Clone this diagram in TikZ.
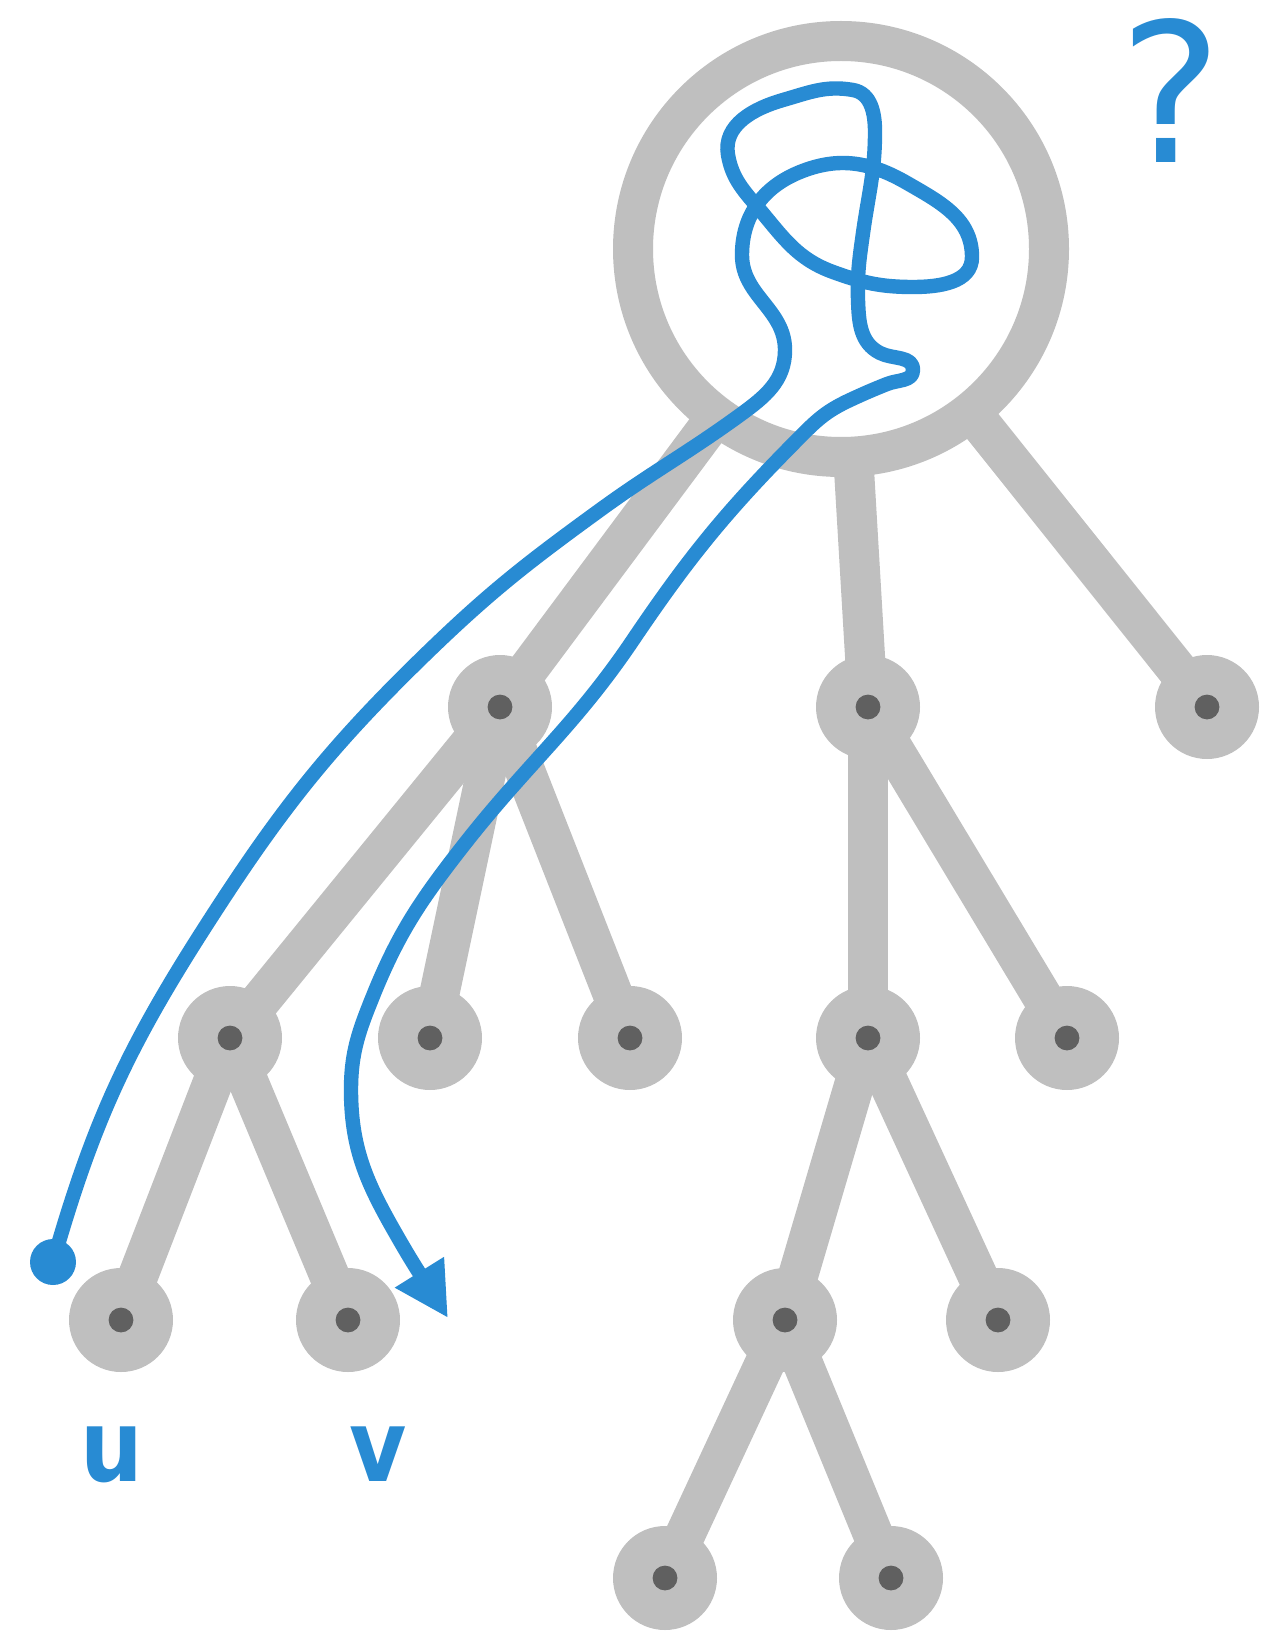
\documentclass[tikz,border=0pt]{standalone}
\usepackage{fontspec}
\setmainfont{DejaVu Sans}
\newfontfamily\labelfont[FakeStretch=0.88]{DejaVu Sans}
\usetikzlibrary{arrows.meta,backgrounds}
\definecolor{edgegrey}{HTML}{BFBFBF}
\definecolor{dotgrey}{HTML}{606060}
\definecolor{pathblue}{HTML}{288BD3}
\begin{document}
\begin{tikzpicture}[x=0.5pt,y=-0.5pt,
  treenode/.style={circle, fill=edgegrey, inner sep=0pt, outer sep=0pt, minimum size=52pt,
    path picture={\fill[dotgrey] (path picture bounding box.center) circle[radius=6.2pt];}},
  rootnode/.style={circle, draw=edgegrey, fill=white, line width=20pt, inner sep=0pt, outer sep=0pt, minimum size=208pt},
  treeedge/.style={draw=edgegrey, line width=20pt},
  walk/.style={draw=pathblue, line width=7.2pt, line join=round},
  startdot/.style={circle, fill=pathblue, inner sep=0pt, minimum size=23pt},
  vlabel/.style={text=pathblue, font=\labelfont\bfseries\fontsize{50pt}{60pt}\selectfont, anchor=base, inner sep=0pt},
  qlabel/.style={text=pathblue, font=\fontsize{97pt}{110pt}\selectfont, anchor=base, inner sep=0pt}]
\useasboundingbox (0,0) rectangle (1281,1642);
% nodes
\node[treenode] (A) at (500,707) {};
\node[treenode] (B) at (868,707) {};
\node[treenode] (C) at (1207,707) {};
\node[treenode] (D) at (230,1038) {};
\node[treenode] (E) at (430,1038) {};
\node[treenode] (F) at (630,1038) {};
\node[treenode] (G) at (868,1038) {};
\node[treenode] (H) at (1067,1038) {};
\node[treenode] (U) at (121,1320) {};
\node[treenode] (V) at (348,1320) {};
\node[treenode] (I) at (785,1320) {};
\node[treenode] (J) at (998,1320) {};
\node[treenode] (K) at (665,1578) {};
\node[treenode] (L) at (891,1578) {};
\node[rootnode] (R) at (841,249) {};
% edges
\begin{pgfonlayer}{background}
\draw[treeedge] (R.center) -- (A.center);
\draw[treeedge] (R.center) -- (B.center);
\draw[treeedge] (R.center) -- (C.center);
\draw[treeedge] (A.center) -- (D.center);
\draw[treeedge] (A.center) -- (E.center);
\draw[treeedge] (A.center) -- (F.center);
\draw[treeedge] (B.center) -- (G.center);
\draw[treeedge] (B.center) -- (H.center);
\draw[treeedge] (D.center) -- (U.center);
\draw[treeedge] (D.center) -- (V.center);
\draw[treeedge] (G.center) -- (I.center);
\draw[treeedge] (G.center) -- (J.center);
\draw[treeedge] (I.center) -- (K.center);
\draw[treeedge] (I.center) -- (L.center);
\end{pgfonlayer}
% walk from u-side dot to the arrow near v
\node[startdot] (s) at (53,1262) {};
\coordinate (t) at (448,1318);
\draw[walk, -{Triangle[length=27pt,width=27pt]}] (s.center)
  to[out=74,in=237.5] (200,935)
  to[out=57.5,in=224] (430,650)
  to[out=44,in=216] (600,510)
  to[out=36,in=216] (740,415)
  to[out=36,in=270] (785,350)
  to[out=90,in=270] (742,255)
  to[out=90,in=202] (800,172)
  to[out=22,in=150] (907,183)
  to[out=-30,in=90] (972,257)
  to[out=-90,in=0] (913,287)
  to[out=180,in=340] (833,272)
  to[out=160,in=310] (760,210)
  to[out=130,in=280] (728,155)
  to[out=100,in=196] (783,100)
  to[out=16,in=170] (853,90)
  to[out=-10,in=90] (875,132)
  to[out=-90,in=82] (863,233)
  to[out=-98,in=92] (858,300)
  to[out=-88,in=153] (880,353)
  to[out=-27,in=90] (913,370)
  to[out=-90,in=22] (887,384)
  to[out=-158,in=25] (850,400)
  to[out=-155,in=45] (805,432)
  to[out=-135,in=56] (633,640)
  to[out=-124,in=52] (463,846)
  to[out=-128,in=68] (373,996)
  to[out=-112,in=90] (351,1090)
  to[out=-90,in=120] (400,1241)
  to[out=-60,in=122] (t);
% labels
\node[vlabel] (lu) at (112,1481) {u};
\node[vlabel] (lv) at (378,1481) {v};
\node[qlabel] (lq) at (1171,163) {?};
\end{tikzpicture}
\end{document}
